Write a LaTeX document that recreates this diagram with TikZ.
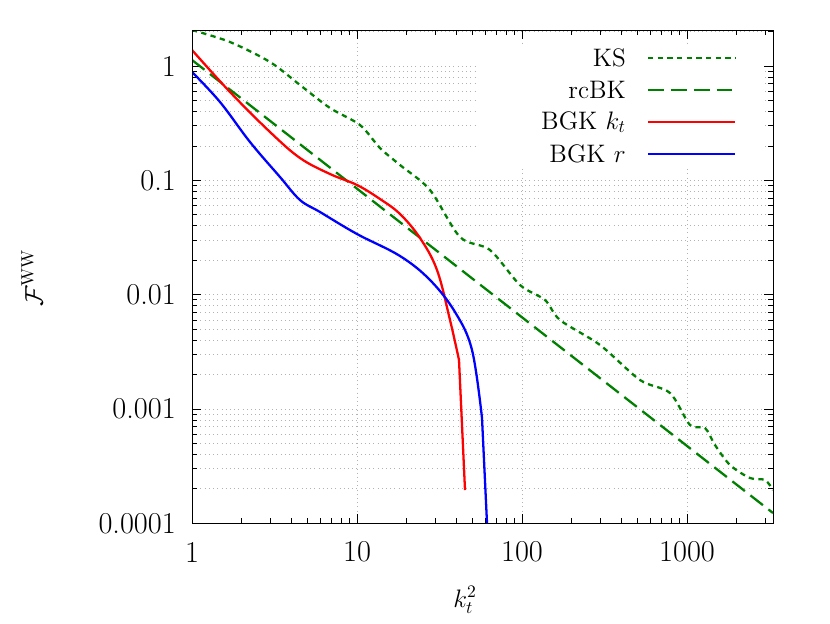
\documentclass[tikz,border=0pt]{standalone}
\usepackage{amsmath}
\begin{document}
\begin{tikzpicture}[x=0.02cm,y=-0.02cm,
  grid/.style={gray!60,dotted,line width=0.4pt},
  curve/.style={line width=1.3pt,line join=round},
  tl/.style={font=\LARGE}]
\useasboundingbox (0,0) rectangle (830,623);
\def\xL{192}\def\xR{773}\def\yT{30}\def\yB{523}
% grid
\foreach \d in {0,1,2,3}{
  \pgfmathsetmacro\gx{192+165*\d}
  \draw[grid] (\gx,\yT) -- (\gx,\yB);}
\foreach \d in {0,1,2,3,4}{
  \foreach \m in {1,...,9}{
    \pgfmathsetmacro\gy{66+114.3*\d-114.3*log10(\m)}
    \ifdim\gy pt>31pt \draw[grid] (\xL,\gy) -- (\xR,\gy); \fi
    \ifdim\gy pt>31pt \draw (\xL,\gy) -- ++(\ifnum\m=1 9\else 5\fi,0);
      \draw (\xR,\gy) -- ++(\ifnum\m=1 -9\else -5\fi,0);\fi
  }}
\foreach \d in {0,1,2,3}{
  \foreach \m in {1,...,9}{
    \pgfmathsetmacro\gx{192+165*\d+165*log10(\m)}
    \ifdim\gx pt<772pt \draw (\gx,\yB) -- ++(0,\ifnum\m=1 -9\else -5\fi);
      \draw (\gx,\yT) -- ++(0,\ifnum\m=1 9\else 5\fi);\fi
  }}
% legend background
\fill[white] (478,44) rectangle (762,166);
% curves
\begin{scope}
\clip (\xL,\yT) rectangle (\xR,\yB);
\draw[curve,green!50!black,dash pattern=on 3pt off 2.5pt] plot[smooth,tension=0.5] coordinates {(192,30)(230,42)(270,62)(300,85)(330,108)(360,125)(380,148)(400,165)(430,190)(460,237)(490,250)(520,285)(545,300)(560,320)(600,345)(640,380)(670,393)(690,425)(705,428)(715,445)(730,465)(750,478)(765,480)(773,490)};
\draw[curve,green!50!black,dash pattern=on 9pt off 4pt] (192,60) -- (773,513);
\draw[curve,red] plot[smooth,tension=0.6] coordinates {(192,50)(230,92)(270,132)(300,158)(330,174)(357,185)(380,199)(400,214)(420,238)(437,270)(450,320)(459,360)};
\draw[curve,red] (459,360) -- (465,490);
\draw[curve,blue] plot[smooth,tension=0.6] coordinates {(192,72)(220,102)(250,142)(280,177)(300,200)(320,212)(357,234)(400,256)(430,280)(455,312)(472,350)(482,418)};
\draw[curve,blue] (482,418) -- (487,523);
\end{scope}
\draw (\xL,\yT) rectangle (\xR,\yB);
% legend
\node[anchor=east,font=\Large] (l1) at (632,58) {KS};
\node[anchor=east,font=\Large] (l2) at (632,90) {rcBK};
\node[anchor=east,font=\Large] (l3) at (632,122) {BGK $k_t$};
\node[anchor=east,font=\Large] (l4) at (632,154) {BGK $r$};
\draw[curve,green!50!black,dash pattern=on 3pt off 2.5pt] (648,58) -- (735,58);
\draw[curve,green!50!black,dash pattern=on 9pt off 4pt] (648,90) -- (735,90);
\draw[curve,red] (648,122) -- (735,122);
\draw[curve,blue] (648,154) -- (735,154);
% tick labels
\foreach \t [count=\i from 0] in {1,0.1,0.01,0.001,0.0001}
  \node[tl,anchor=east] (yl\i) at (182,66+114.3*\i) {\t};
\foreach \t [count=\i from 0] in {1,10,100,1000}
  \node[tl] (xl\i) at (192+165*\i,552) {\t};
\node[font=\Large] (xlab) at (465,600) {$k_t^2$};
\node[font=\Large,rotate=90] (ylab) at (32,278) {$\mathcal{F}^{\mathrm{WW}}$};
\end{tikzpicture}
\end{document}
